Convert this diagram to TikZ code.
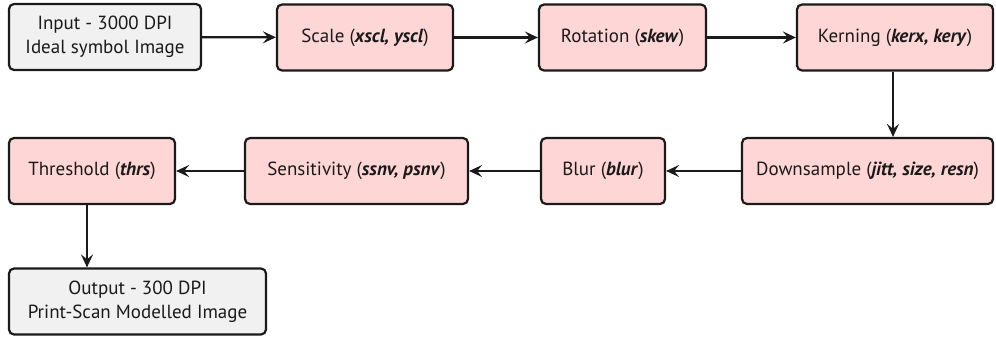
\documentclass[tikz,border=0pt]{standalone}
\usepackage{fontspec}
\setmainfont{PT Sans}
\usetikzlibrary{arrows.meta}
\definecolor{stagefill}{HTML}{FFD6D6}
\definecolor{iofill}{HTML}{F1F1F1}
\definecolor{edge}{HTML}{1A1A1A}
\begin{document}
\begin{tikzpicture}[x=1pt,y=1pt,
  box/.style={draw=edge,line width=2.2pt,rounded corners=5pt,align=center,
    font=\fontsize{19}{24}\selectfont,text=edge,inner sep=0pt},
  stage/.style={box,fill=stagefill,minimum height=66pt},
  iobox/.style={box,fill=iofill,minimum height=66pt},
  flow/.style={draw=edge,line width=2.2pt,-{Stealth[length=13pt,width=12pt,inset=5pt]}}]
\useasboundingbox (0,0) rectangle (996,-337);
% top row
\node[iobox,minimum width=192pt] (in) at (105,-37) {Input - 3000 DPI\\Ideal symbol Image};
\node[stage,minimum width=176pt] (scl) at (365,-37.5) {Scale (\textbf{\textit{xscl, yscl}})};
\node[stage,minimum width=167pt] (rot) at (622.5,-37.5) {Rotation (\textbf{\textit{skew}})};
\node[stage,minimum width=196pt] (kern) at (895,-37.5) {Kerning (\textbf{\textit{kerx, kery}})};
% second row
\node[stage,minimum width=251pt] (down) at (867.5,-171) {Downsample (\textbf{\textit{jitt, size, resn}})};
\node[stage,minimum width=124pt] (blur) at (603,-171) {Blur (\textbf{\textit{blur}})};
\node[stage,minimum width=223pt] (sens) at (356.5,-171) {Sensitivity (\textbf{\textit{ssnv, psnv}})};
\node[stage,minimum width=166pt] (thr) at (92,-171) {Threshold (\textbf{\textit{thrs}})};
% output
\node[iobox,minimum width=257pt] (out) at (137.5,-301.5) {Output - 300 DPI\\Print-Scan Modelled Image};
% connectors
\draw[flow] (in) -- (scl);
\draw[flow] (scl) -- (rot);
\draw[flow] (rot) -- (kern);
\draw[flow] ([xshift=-2pt]kern.south) -- ([xshift=-2pt]kern.south |- down.north);
\draw[flow] (down) -- (blur);
\draw[flow] (blur) -- (sens);
\draw[flow] (sens) -- (thr);
\draw[flow] ([xshift=-5pt]thr.south) -- ([xshift=-5pt]thr.south |- out.north);
\end{tikzpicture}
\end{document}
